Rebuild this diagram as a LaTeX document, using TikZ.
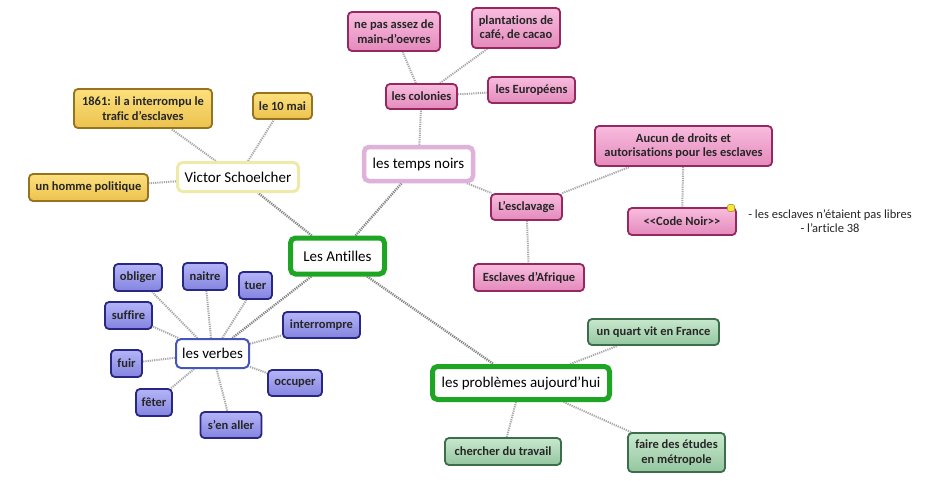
\documentclass[tikz,border=0pt]{standalone}
\usepackage{fontspec}
\setmainfont{Carlito}[Ligatures=NoCommon]
\usetikzlibrary{backgrounds}
\definecolor{pinkT}{RGB}{248,188,222}
\definecolor{pinkB}{RGB}{228,138,188}
\definecolor{pinkD}{RGB}{150,40,95}
\definecolor{yelT}{RGB}{252,224,125}
\definecolor{yelB}{RGB}{236,194,78}
\definecolor{yelD}{RGB}{150,115,30}
\definecolor{bluT}{RGB}{180,180,248}
\definecolor{bluB}{RGB}{132,132,224}
\definecolor{bluD}{RGB}{40,40,130}
\definecolor{grnT}{RGB}{200,232,205}
\definecolor{grnB}{RGB}{148,198,160}
\definecolor{grnD}{RGB}{60,110,75}
\definecolor{mgreen}{RGB}{30,165,35}
\definecolor{mvictor}{RGB}{238,234,170}
\definecolor{mtemps}{RGB}{222,178,218}
\definecolor{mverbes}{RGB}{70,85,185}
\definecolor{linkc}{RGB}{168,168,168}
\definecolor{markY}{RGB}{240,232,60}
\definecolor{markD}{RGB}{190,160,40}
\tikzset{
  leaf/.style={rounded corners=4pt, line width=1.8pt, align=center, inner sep=1pt,
    font=\fontsize{12.5}{14.5}\selectfont\bfseries, text=black!85},
  pinkbox/.style={leaf, draw=pinkD, top color=pinkT, bottom color=pinkB},
  yelbox/.style={leaf, draw=yelD, top color=yelT, bottom color=yelB},
  blubox/.style={leaf, draw=bluD, top color=bluT, bottom color=bluB},
  grnbox/.style={leaf, draw=grnD, top color=grnT, bottom color=grnB},
  mainbox/.style={rounded corners=5pt, fill=white, align=center, inner sep=1pt,
    font=\fontsize{15}{17}\selectfont, text=black},
  sz/.style 2 args={minimum width=#1pt, minimum height=#2pt},
  link/.style={draw=linkc, line width=2pt, dash pattern=on 1.2pt off 1pt},
  mlink/.style={draw=linkc!80!black, line width=2.4pt, dash pattern=on 1.2pt off 1pt},
  marker/.style={draw=markD, fill=markY, line width=0.6pt, rounded corners=1.5pt,
    minimum size=7pt, inner sep=0pt},
  notetext/.style={align=center, font=\fontsize{12.5}{14}\selectfont, text=black!85}
}
\begin{document}
\begin{tikzpicture}[x=1pt,y=-1pt]
\useasboundingbox (0,0) rectangle (948,480);
% main nodes
\node[mainbox, draw=mgreen, line width=5pt, sz={94}{36}] (antilles) at (337.5,256) {Les Antilles};
\node[mainbox, draw=mvictor, line width=3pt, sz={121}{29}] (victor) at (238,177) {Victor Schoelcher};
\node[mainbox, draw=mtemps, line width=4.5pt, sz={109}{34}] (temps) at (418.5,164) {les temps noirs};
\node[mainbox, draw=mverbes, line width=2pt, sz={73}{29}] (verbes) at (212.5,353.5) {les verbes};
\node[mainbox, draw=mgreen, line width=5pt, sz={177}{33}] (problemes) at (521,383) {les problèmes aujourd'hui};
% yellow
\node[yelbox, sz={138}{39}] (y1) at (143,108.5) {1861: il a interrompu le\\trafic d'esclaves};
\node[yelbox, sz={59}{26}] (y2) at (282.5,106) {le 10 mai};
\node[yelbox, sz={119}{27}] (y3) at (88.5,187.5) {un homme politique};
% pink
\node[pinkbox, sz={92}{39}] (p1) at (394,31.5) {ne pas assez de\\main-d'oevres};
\node[pinkbox, sz={88}{40}] (p2) at (516,28) {plantations de\\café, de cacao};
\node[pinkbox, sz={71}{25}] (colonies) at (421.5,96.5) {les colonies};
\node[pinkbox, sz={87}{26}] (europeens) at (531.5,90) {les Européens};
\node[pinkbox, sz={177}{40}] (aucun) at (683.5,146) {Aucun de droits et\\autorisations pour les esclaves};
\node[pinkbox, sz={71}{26}] (esclavage) at (526.5,207) {L'esclavage};
\node[pinkbox, sz={108}{27}] (codenoir) at (682,221.5) {<{}<Code Noir>{}>};
\node[pinkbox, sz={110}{27}] (afrique) at (529,277.5) {Esclaves d'Afrique};
\node[marker] (mk) at (731,208) {};
\node[notetext] (note) at (830,221) {- les esclaves n'étaient pas libres\\- l'article 38};
% green
\node[grnbox, sz={131}{26}] (quart) at (653.5,332) {un quart vit en France};
\node[grnbox, sz={116}{27}] (chercher) at (503,451.5) {chercher du travail};
\node[grnbox, sz={97}{39}] (faire) at (676.5,452.5) {faire des études\\en métropole};
% blue
\node[blubox, sz={48}{27}] (obliger) at (138,277.5) {obliger};
\node[blubox, sz={44}{27}] (naitre) at (205,276.5) {naitre};
\node[blubox, sz={33}{27}] (tuer) at (255.5,285.5) {tuer};
\node[blubox, sz={47}{27}] (suffire) at (128.5,315.5) {suffire};
\node[blubox, sz={77}{26}] (interrompre) at (321.5,325) {interrompre};
\node[blubox, sz={31}{27}] (fuir) at (126.5,363.5) {fuir};
\node[blubox, sz={54}{26}] (occuper) at (295,383) {occuper};
\node[blubox, sz={36}{27}] (feter) at (154,402.5) {fêter};
\node[blubox, sz={61}{26}] (senaller) at (231,425) {s'en aller};
% connectors
\begin{scope}[on background layer]
\fill[white] (0,0) rectangle (948,480);
\draw[mlink] (antilles) -- (victor);
\draw[mlink] (antilles) -- (temps);
\draw[mlink] (antilles) -- (verbes);
\draw[mlink] (antilles) -- (problemes);
\draw[link] (victor) -- (y1);
\draw[link] (victor) -- (y2);
\draw[link] (victor) -- (y3);
\draw[link] (temps) -- (colonies);
\draw[link] (temps) -- (esclavage);
\draw[link] (colonies) -- (p1);
\draw[link] (colonies) -- (p2);
\draw[link] (colonies) -- (europeens);
\draw[link] (esclavage) -- (aucun);
\draw[link] (esclavage) -- (afrique);
\draw[link] (aucun) -- (codenoir);
\foreach \v in {obliger,naitre,tuer,suffire,interrompre,fuir,occuper,feter,senaller}
  \draw[link] (verbes) -- (\v);
\draw[link] (problemes) -- (quart);
\draw[link] (problemes) -- (chercher);
\draw[link] (problemes) -- (faire);
\end{scope}
\end{tikzpicture}
\end{document}
